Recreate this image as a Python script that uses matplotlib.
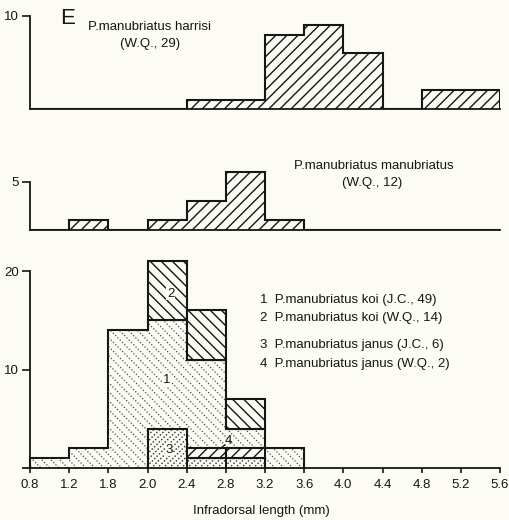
import numpy as np
import matplotlib.pyplot as plt
from matplotlib.lines import Line2D
from matplotlib.transforms import IdentityTransform

plt.rcParams['font.family'] = ['Liberation Sans', 'DejaVu Sans']
plt.rcParams['hatch.linewidth'] = 1.0

# 直方图的分组 (mm)
edges = np.round(np.arange(0.8, 5.61, 0.4), 1)
tick_labels = ['0.8', '1.2', '1.8', '2.0', '2.4', '2.8', '3.2', '3.6', '4.0',
               '4.4', '4.8', '5.2', '5.6']

# P. manubriatus harrisi (W.Q., 29)
harrisi = [0, 0, 0, 0, 1, 1, 8, 9, 6, 0, 2, 2]
# P. manubriatus manubriatus (W.Q., 12)
manubriatus = [0, 1, 0, 1, 3, 6, 1, 0, 0, 0, 0, 0]
# 下图: 四个样本
koi_jc = [1, 2, 14, 15, 11, 4, 2, 0, 0, 0, 0, 0]
koi_wq = [0, 0, 0, 6, 5, 3, 0, 0, 0, 0, 0, 0]
janus_jc = [0, 0, 0, 4, 1, 1, 0, 0, 0, 0, 0, 0]
janus_wq = [0, 0, 0, 0, 1, 1, 0, 0, 0, 0, 0, 0]

legend_lines = ['1  P.manubriatus koi (J.C., 49)',
                '2  P.manubriatus koi (W.Q., 14)',
                '3  P.manubriatus janus (J.C., 6)',
                '4  P.manubriatus janus (W.Q., 2)']

bg = '#fcfcf4'
ink = '#161616'
W, H = 509, 520
xscale = 470 / 4.8   # 每 mm 的像素
x_left = 0.8 - 7 / xscale
fs = 9.5

fig = plt.figure(figsize=(W / 100, H / 100), dpi=100, facecolor=bg)


def make_axes(base_px, ytop, yscale):
    ax = fig.add_axes([23 / W, 1 - base_px / H, 477 / W, ytop * yscale / H])
    ax.set_facecolor('none')
    ax.set_xlim(x_left, 5.6)
    ax.set_ylim(0, ytop)
    for s in ['top', 'right']:
        ax.spines[s].set_visible(False)
    ax.spines['left'].set_position(('data', 0.8))
    ax.spines['left'].set_linewidth(1.3)
    ax.spines['bottom'].set_linewidth(1.3)
    ax.spines['left'].set_color(ink)
    ax.spines['bottom'].set_color(ink)
    ax.tick_params(axis='y', direction='out', length=5.5, width=1.2, pad=2.5,
                   labelsize=fs, colors=ink)
    return ax


def dotted_hatch(ax, clip, direction, spacing, color, z, gap=2.0, lw=1.1):
    # 用点线做斜纹填充, 裁剪到柱形内部
    bb = ax.bbox
    x0, y0, x1, y1 = bb.x0, bb.y0, bb.x1, bb.y1
    span = (x1 - x0) + (y1 - y0)
    for off in np.arange(-span, span, spacing):
        if direction == '\\':
            xs = [x0 + off, x0 + off + span]
            ys = [y1, y1 - span]
        else:
            xs = [x0 + off, x0 + off + span]
            ys = [y0, y0 + span]
        ln = Line2D(xs, ys, transform=IdentityTransform(), color=color,
                    lw=lw, ls=(0, (0.01, gap)), dash_capstyle='round', zorder=z)
        ln.set_clip_path(clip)
        ax.add_artist(ln)


# 上图
ax1 = make_axes(109, 10.5, 9.3)
ax1.stairs(harrisi, edges, fill=True, facecolor='none', edgecolor=ink,
           hatch='///', lw=1.5, zorder=2)
ax1.set_yticks([10])
ax1.set_xticks([])
ax1.spines['left'].set_bounds(0, 10)
ax1.spines['bottom'].set_bounds(0.8, 5.6)
fig.text(150 / W, 1 - 27 / H, 'P.manubriatus harrisi', ha='center', va='center',
         fontsize=fs, color=ink)
fig.text(150 / W, 1 - 44 / H, '(W.Q., 29)', ha='center', va='center',
         fontsize=fs, color=ink)
fig.text(68 / W, 1 - 19 / H, 'E', ha='center', va='center', fontsize=16, color=ink)

# 中图
ax2 = make_axes(230, 7, 9.7)
ax2.stairs(manubriatus, edges, fill=True, facecolor='none', edgecolor=ink,
           hatch='///', lw=1.5, zorder=2)
ax2.set_yticks([5])
ax2.set_xticks([])
ax2.spines['left'].set_bounds(0, 5)
ax2.spines['bottom'].set_bounds(0.8, 5.6)
fig.text(374 / W, 1 - 166 / H, 'P.manubriatus manubriatus', ha='center',
         va='center', fontsize=fs, color=ink)
fig.text(372 / W, 1 - 183 / H, '(W.Q., 12)', ha='center', va='center',
         fontsize=fs, color=ink)

# 下图
ax3 = make_axes(468, 22, 9.85)
koi_jc = np.array(koi_jc)
koi_wq = np.array(koi_wq)
janus_jc = np.array(janus_jc)
janus_wq = np.array(janus_wq)
n_koi = np.nonzero(koi_jc)[0][-1] + 1
s1 = ax3.stairs(koi_jc[:n_koi], edges[:n_koi + 1], fill=True, facecolor=bg,
                edgecolor=ink, lw=1.5, zorder=2)
dotted_hatch(ax3, s1, '\\', 9, '#4a4a4a', 2.2, gap=2.1, lw=1.1)

m = koi_wq > 0
ax3.bar(edges[:-1][m], koi_wq[m], width=0.4, align='edge', bottom=koi_jc[m],
        facecolor=bg, edgecolor=ink, hatch='\\\\\\', lw=1.5, zorder=3)

m = janus_jc > 0
idx = np.nonzero(m)[0]
s3 = ax3.stairs(janus_jc[m], edges[idx[0]:idx[-1] + 2], fill=True, facecolor=bg,
                edgecolor=ink, lw=1.5, zorder=3)
dotted_hatch(ax3, s3, '/', 6, '#333333', 3.2, gap=2.0, lw=1.2)
ax3.bar(edges[:-1][m], janus_jc[m], width=0.4, align='edge', fill=False,
        edgecolor=ink, lw=1.3, zorder=3.4)

m = janus_wq > 0
ax3.bar(edges[:-1][m], janus_wq[m], width=0.4, align='edge', bottom=janus_jc[m],
        facecolor=bg, edgecolor=ink, hatch='///', lw=1.5, zorder=3.5)

box = dict(boxstyle='square,pad=0.05', fc=bg, ec='none')
ax3.text(2.237, 17.7, '2', ha='center', va='center', fontsize=fs, color=ink,
         zorder=5, bbox=box)
ax3.text(2.196, 8.9, '1', ha='center', va='center', fontsize=fs, color=ink,
         zorder=5, bbox=box)
ax3.text(2.22, 1.85, '3', ha='center', va='center', fontsize=fs, color=ink,
         zorder=5, bbox=box)
ax3.text(2.83, 2.75, '4', ha='center', va='center', fontsize=fs, color=ink, zorder=5)
ax3.plot([2.79, 2.74], [2.35, 1.95], color=ink, lw=0.9, zorder=5)

ax3.set_yticks([10, 20])
ax3.spines['left'].set_bounds(0, 20)
ax3.set_xticks(edges)
ax3.set_xticklabels(tick_labels)
ax3.tick_params(axis='x', direction='out', length=3.8, width=1.2, pad=4,
                labelsize=fs, colors=ink)
ax3.set_xlabel('Infradorsal length (mm)', fontsize=fs, color=ink, labelpad=10.5)

for line, y in zip(legend_lines, [300, 318, 345, 364]):
    fig.text(260 / W, 1 - y / H, line, ha='left', va='center', fontsize=fs,
             color=ink)

fig.savefig('out.png', dpi=100, facecolor=bg)
